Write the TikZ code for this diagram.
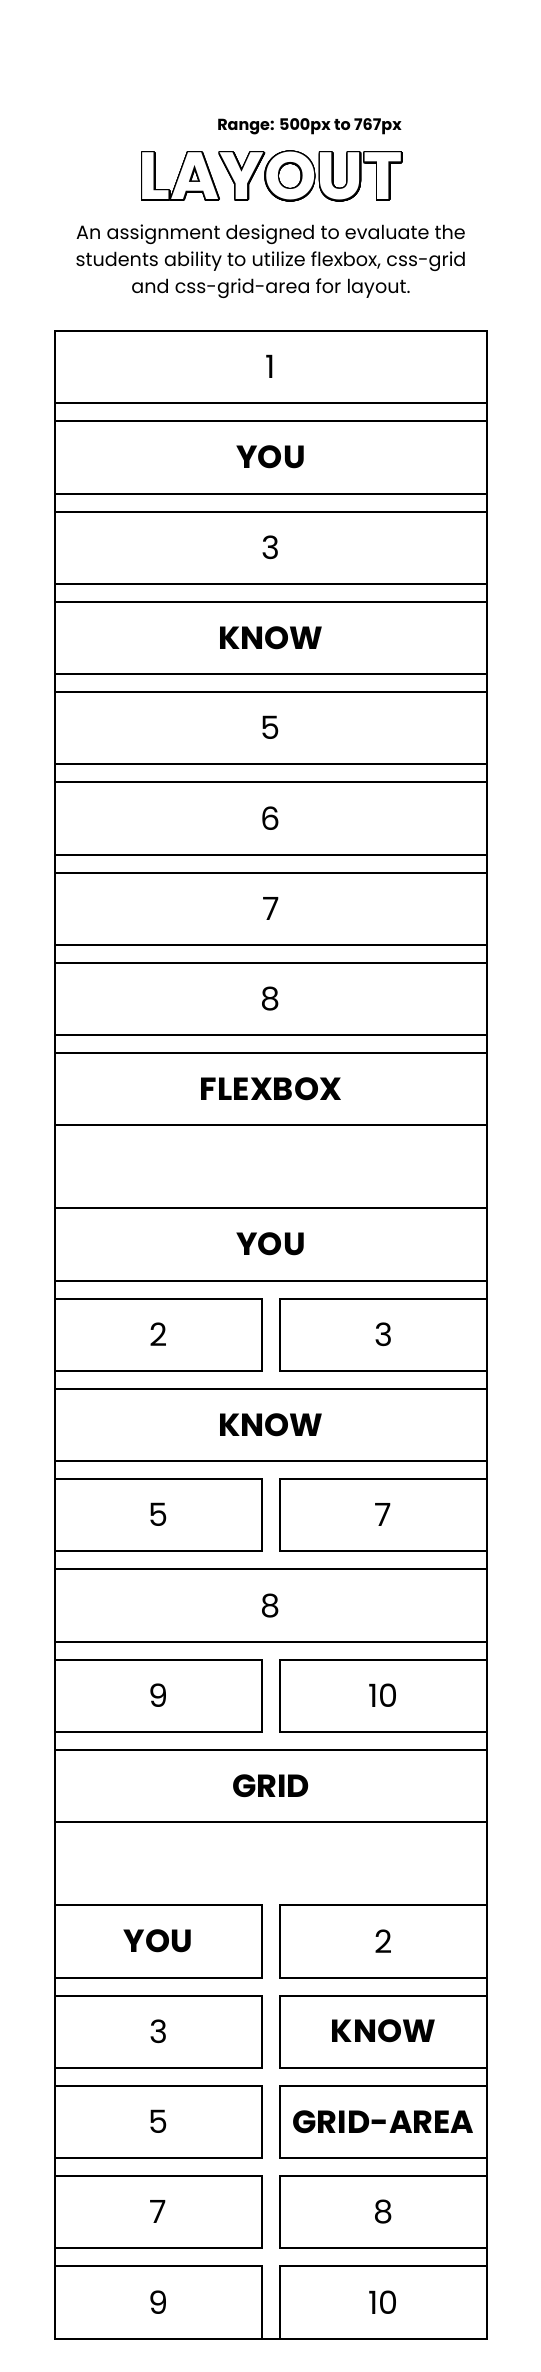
\documentclass[tikz,border=0pt]{standalone}
\usepackage{fontspec}
\setmainfont{Poppins}
\usepackage{contour}
\contourlength{1.1pt}
\contournumber{40}
\usetikzlibrary{positioning}

\begin{document}
\begin{tikzpicture}[x=0.75pt,y=-0.75pt]
    \tikzset{
        cell/.style={draw, line width=1.5pt, outer sep=0pt, inner sep=0pt,
            minimum width=324pt, minimum height=54.2pt, font=\fontsize{24}{28}\selectfont},
        half/.style={cell, minimum width=155.25pt},
        word/.style={font=\fontsize{24}{28}\selectfont\bfseries},
        under/.style={below=of #1.south west, anchor=north west},
        node distance=13.5pt,
    };
    \useasboundingbox (0,0) rectangle (541,2372);

    \node [anchor=base east, inner sep=0pt, font=\fontsize{12}{14}\selectfont\bfseries] (range) at (402,131) {Range: 500px to 767px};
    \node [anchor=base, inner sep=0pt, font=\fontsize{50}{54}\selectfont\bfseries] (title) at (271,200) {\contour{black}{\textcolor{white}{LAYOUT}}};
    \node [anchor=north, inner sep=0pt, align=center, font=\fontsize{14.4}{20.25}\selectfont] (intro) at (271,225) {An assignment designed to evaluate the\\students ability to utilize flexbox, css-grid\\and css-grid-area for layout.};

    \node [cell, anchor=north] (one) at (271,331) {1};
    \node [cell, word, below=of one] (you) {YOU};
    \node [cell, below=of you] (three) {3};
    \node [cell, word, below=of three] (know) {KNOW};
    \node [cell, below=of know] (five) {5};
    \node [cell, below=of five] (six) {6};
    \node [cell, below=of six] (seven) {7};
    \node [cell, below=of seven] (eight) {8};
    \node [cell, word, below=of eight] (flexbox) {FLEXBOX};

    \node [cell, word, below=62.25pt of flexbox] (fyou) {YOU};
    \node [half, under=fyou] (ftwo) {2};
    \node [half, right=of ftwo] (fthree) {3};
    \node [cell, word, under=ftwo] (fknow) {KNOW};
    \node [half, under=fknow] (ffive) {5};
    \node [half, right=of ffive] (fseven) {7};
    \node [cell, under=ffive] (feight) {8};
    \node [half, under=feight] (fnine) {9};
    \node [half, right=of fnine] (ften) {10};
    \node [cell, word, under=fnine] (grid) {GRID};

    \node [half, word, below=62.25pt of grid.south west, anchor=north west] (gyou) {YOU};
    \node [half, right=of gyou] (gtwo) {2};
    \node [half, under=gyou] (gthree) {3};
    \node [half, word, right=of gthree] (gknow) {KNOW};
    \node [half, under=gthree] (gfive) {5};
    \node [half, word, right=of gfive] (garea) {GRID-AREA};
    \node [half, under=gfive] (gseven) {7};
    \node [half, right=of gseven] (geight) {8};
    \node [half, under=gseven] (gnine) {9};
    \node [half, right=of gnine] (gten) {10};

    \draw [line width=1.5pt] (one.north west) rectangle (gten.south east);
\end{tikzpicture}
\end{document}
